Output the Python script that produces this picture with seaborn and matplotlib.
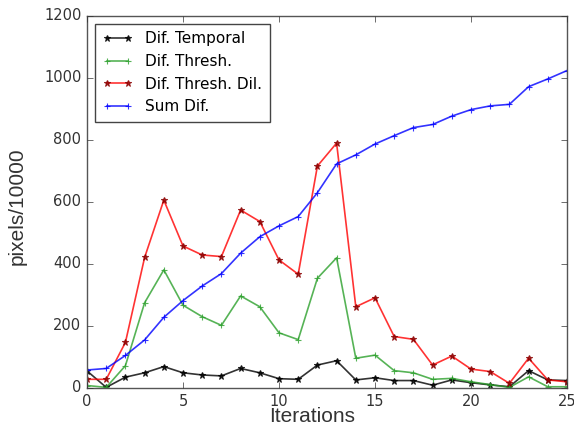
import matplotlib
matplotlib.use("Agg")
import matplotlib.pyplot as plt
import seaborn as sns
import pandas as pd

iterations = list(range(26))
dif_temporal = [55, 2, 35, 49, 69, 49, 42, 39, 63, 49, 30, 28, 74, 88,
                26, 33, 24, 24, 9, 26, 17, 10, 4, 56, 26, 24]
dif_thresh = [8, 2, 72, 275, 381, 267, 230, 202, 297, 262, 178, 156, 354, 420,
              96, 106, 56, 49, 28, 31, 20, 11, 2, 36, 4, 4]
dif_thresh_dil = [28, 28, 147, 421, 606, 458, 429, 424, 574, 537, 413, 367, 716, 790,
                  262, 291, 166, 157, 74, 103, 61, 53, 15, 96, 26, 20]
sum_dif = [58, 63, 105, 155, 228, 282, 329, 369, 435, 488, 523, 553, 630, 723,
           752, 787, 814, 840, 850, 877, 898, 910, 915, 972, 997, 1024]

series_names = ["Dif. Temporal", "Dif. Thresh.", "Dif. Thresh. Dil.", "Sum Dif."]
series_values = [dif_temporal, dif_thresh, dif_thresh_dil, sum_dif]
colors = ["black", "#2ca02c", "red", "blue"]
markers = ["*", "+", "*", "+"]
edges = ["black", "#2ca02c", "#8b0000", "blue"]

df = pd.concat(
    [pd.DataFrame({"Iterations": iterations, "value": v, "series": n})
     for n, v in zip(series_names, series_values)],
    ignore_index=True,
)

plt.style.use("classic")
plt.rcParams["font.family"] = ["DejaVu Sans"]

fig = plt.figure(figsize=(5.74, 4.30), dpi=100)
ax = fig.add_axes([0.1516, 0.0977, 0.8362, 0.8651])

for name, col, mk, ec in zip(series_names, colors, markers, edges):
    sub = df[df["series"] == name]
    sns.lineplot(data=sub, x="Iterations", y="value", ax=ax, color=col,
                 marker=mk, markersize=5, markeredgecolor=ec,
                 markerfacecolor=ec, markeredgewidth=0.8,
                 linewidth=1.2, alpha=0.8, label=name)

ax.set_xlim(0, 25)
ax.set_ylim(0, 1200)
ax.set_xticks([0, 5, 10, 15, 20, 25])
ax.set_yticks([0, 200, 400, 600, 800, 1000, 1200])
ax.tick_params(labelsize=10.5, colors="#333333", direction="in", top=True, right=True)
ax.set_xlabel("Iterations", fontsize=15, color="#333333", family="Liberation Sans")
ax.set_ylabel("pixels/10000", fontsize=15, color="#333333", family="Liberation Sans")
ax.xaxis.set_label_coords(0.469, -0.052)
ax.yaxis.set_label_coords(-0.125, 0.489)
for sp in ax.spines.values():
    sp.set_color("#555555")

leg = ax.legend(loc="upper left", fontsize=11, frameon=True, numpoints=2,
                handlelength=2, borderpad=0.5)
leg.get_frame().set_edgecolor("#444444")

fig.savefig("out.png", dpi=100)
